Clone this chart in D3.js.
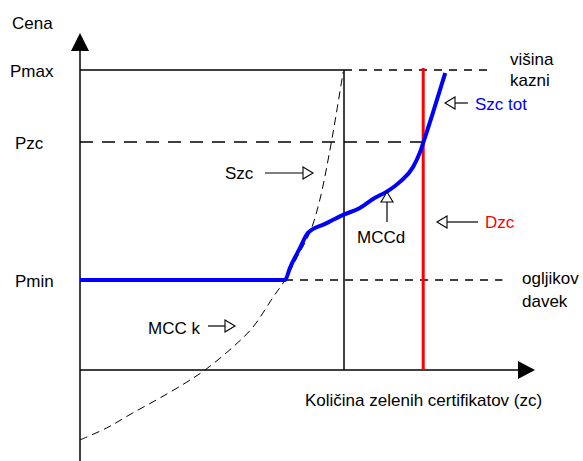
<!DOCTYPE html>
<html><head><meta charset="utf-8">
<script src="https://cdn.jsdelivr.net/npm/d3@7"></script>
<style>body{margin:0;background:#fff}svg{display:block}text{font-family:"Liberation Sans",Arial,sans-serif;font-size:17px}</style>
</head><body>
<script>
// ---- data (arbitrary units: quantity 0..100, price 0..100) ----
const priceLabels = ["Pmax", "Pzc", "Pmin"];
const priceValues = [100, 76, 30];
const quantityCap = 60;      // vertical black line
const quantityDzc = 78;      // red demand line Dzc
// total supply Szc tot (blue)
const szcTotX = [0, 46.6, 47.7, 50, 51.8, 55.7, 59.8, 63.6, 66.6, 70, 72.7, 75.7, 77.3, 78, 80.2, 83];
const szcTotY = [30, 30, 34, 40.7, 45.7, 48.7, 51.7, 54, 57, 59.7, 62.7, 67.7, 72.7, 75.7, 85.7, 99];
// dashed supply Szc / MCC k
const szcX = [0, 6.1, 12, 18.2, 24.3, 28.4, 34.8, 39.3, 43.9, 46.6, 49.5, 52.3, 54.5, 56.8, 58.2, 59.8];
const szcY = [-23.3, -19.3, -14.3, -9.3, -4, 0, 7.7, 14.3, 24.3, 30, 38, 46, 56.7, 73.3, 85, 99.3];

const W = 583, H = 461;
const svg = d3.select("body").append("svg").attr("width", W).attr("height", H);
const x = d3.scaleLinear().domain([0, 100]).range([80, 520]);
const y = d3.scaleLinear().domain([0, 100]).range([370, 70]);

const line = d3.line().x((d) => x(d[0])).y((d) => y(d[1]));

// reference horizontal lines
const [pmax, pzc, pmin] = priceValues;
svg.append("line").attr("x1", x(0)).attr("x2", x(quantityCap)).attr("y1", y(pmax)).attr("y2", y(pmax))
  .attr("stroke", "#000").attr("stroke-width", 1.5);
svg.append("line").attr("x1", x(quantityCap)).attr("x2", x(93.5)).attr("y1", y(pmax)).attr("y2", y(pmax))
  .attr("stroke", "#000").attr("stroke-width", 1.3).attr("stroke-dasharray", "8,7");
svg.append("line").attr("x1", x(0)).attr("x2", x(quantityDzc)).attr("y1", y(pzc)).attr("y2", y(pzc))
  .attr("stroke", "#000").attr("stroke-width", 1.3).attr("stroke-dasharray", "13,9");
svg.append("line").attr("x1", x(46.6)).attr("x2", x(96)).attr("y1", y(pmin)).attr("y2", y(pmin))
  .attr("stroke", "#000").attr("stroke-width", 1.3).attr("stroke-dasharray", "8,7");

// vertical black line
svg.append("line").attr("x1", x(quantityCap)).attr("x2", x(quantityCap)).attr("y1", y(0)).attr("y2", y(pmax))
  .attr("stroke", "#000").attr("stroke-width", 1.5);

// dashed supply curve
svg.append("path").datum(szcX.map((v, i) => [v, szcY[i]]))
  .attr("d", line.curve(d3.curveCatmullRom)).attr("fill", "none").attr("stroke", "#000")
  .attr("stroke-width", 1).attr("stroke-dasharray", "8,5");

// axes
svg.append("line").attr("x1", x(0)).attr("x2", x(0)).attr("y1", 461).attr("y2", 45)
  .attr("stroke", "#000").attr("stroke-width", 1.5);
svg.append("line").attr("x1", x(0)).attr("x2", 525).attr("y1", y(0)).attr("y2", y(0))
  .attr("stroke", "#000").attr("stroke-width", 1.5);
svg.append("path").attr("d", `M${x(0)},33 L${x(0) - 9},51 L${x(0) + 9},51 Z`).attr("fill", "#000");
svg.append("path").attr("d", `M535,${y(0)} L518,${y(0) - 9} L518,${y(0) + 9} Z`).attr("fill", "#000");

// red Dzc
svg.append("line").attr("x1", x(quantityDzc)).attr("x2", x(quantityDzc)).attr("y1", y(0)).attr("y2", y(100.7))
  .attr("stroke", "#ff0000").attr("stroke-width", 3);

// blue Szc tot
svg.append("path")
  .attr("d", d3.line().x((d) => x(d[0])).y((d) => y(d[1])).curve(d3.curveMonotoneX)(szcTotX.map((v, i) => [v, szcTotY[i]])))
  .attr("fill", "none").attr("stroke", "#0000ff").attr("stroke-width", 4).attr("stroke-linejoin", "round");

// price labels
const labelX = { Pmax: 10, Pzc: 15, Pmin: 15 };
priceLabels.forEach((p, i) => {
  svg.append("text").attr("x", labelX[p]).attr("y", y(priceValues[i]) + 7).text(p);
});
svg.append("text").attr("x", 12).attr("y", 29).text("Cena");
svg.append("text").attr("x", 305).attr("y", 406).text("Količina zelenih certifikatov (zc)");
svg.append("text").attr("x", 510).attr("y", 65).text("višina");
svg.append("text").attr("x", 510).attr("y", 86).text("kazni");
svg.append("text").attr("x", 522).attr("y", 284).text("ogljikov");
svg.append("text").attr("x", 522).attr("y", 307).text("davek");

// annotations with open arrows
function openArrow(x1, y1, x2, y2) {
  const ang = Math.atan2(y2 - y1, x2 - x1);
  const L = 10, hw = 6;
  const bx = x2 - L * Math.cos(ang), by = y2 - L * Math.sin(ang);
  svg.append("line").attr("x1", x1).attr("y1", y1).attr("x2", bx).attr("y2", by)
    .attr("stroke", "#000").attr("stroke-width", 1.2);
  const px = -Math.sin(ang) * hw, py = Math.cos(ang) * hw;
  svg.append("path").attr("d", `M${x2},${y2} L${bx + px},${by + py} L${bx - px},${by - py} Z`)
    .attr("fill", "#fff").attr("stroke", "#000").attr("stroke-width", 1.1);
}
svg.append("text").attr("x", 225).attr("y", 179).text("Szc");
openArrow(265, 173, 313, 173);
svg.append("text").attr("x", 357).attr("y", 243).text("MCCd");
openArrow(387, 222, 387, 192);
svg.append("text").attr("x", 485).attr("y", 228).attr("fill", "#ff0000").text("Dzc");
openArrow(478, 222, 437, 222);
svg.append("text").attr("x", 475).attr("y", 110).attr("fill", "#0000ff").text("Szc tot");
openArrow(468, 103, 445, 103);
svg.append("text").attr("x", 148).attr("y", 334).text("MCC k");
openArrow(208, 326, 235, 326);
</script>
</body></html>
